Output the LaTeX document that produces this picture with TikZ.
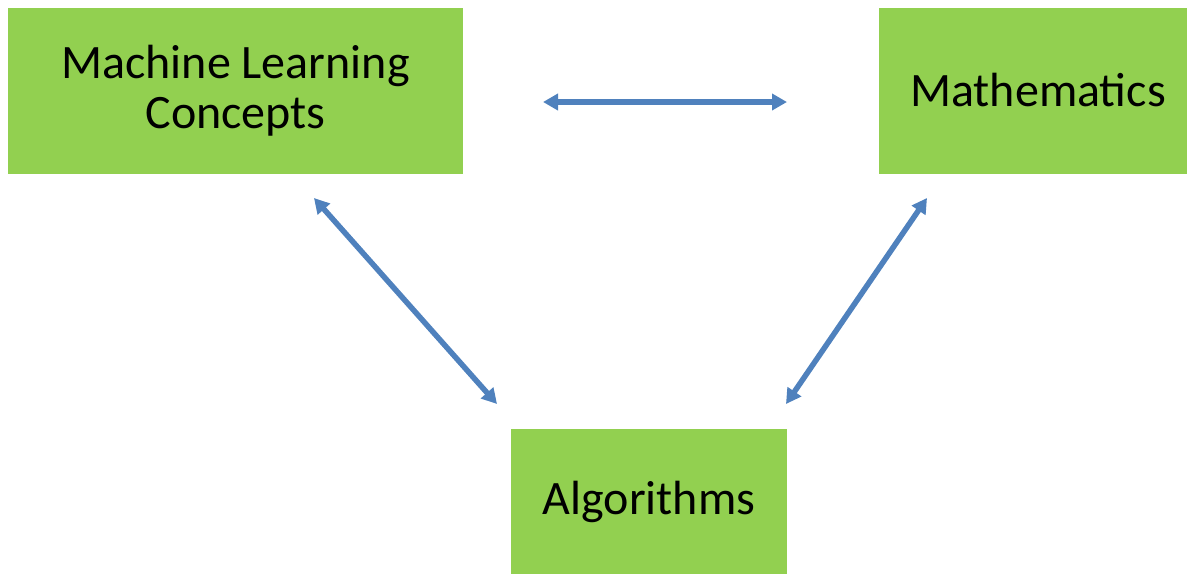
\documentclass[tikz,border=0pt]{standalone}
\usepackage{fontspec}
\setmainfont{Carlito}
\usepackage{xcolor}
\usepackage{tikz}
\definecolor{boxgreen}{HTML}{92D050}
\definecolor{arrowblue}{HTML}{4F81BD}
\tikzset{
  box/.style={fill=boxgreen, inner sep=0pt, align=center,
    font=\fontsize{48}{50}\selectfont},
  link/.style={arrowblue, line width=5.5pt,
    {Triangle[length=15pt,width=16pt]}-{Triangle[length=15pt,width=16pt]}}
}
\usetikzlibrary{arrows.meta}
\begin{document}
\begin{tikzpicture}[x=1pt,y=-1pt]
        \useasboundingbox (0,0) rectangle (1187,574);
        \node[box, minimum width=455pt, minimum height=166pt] (ml) at (235.5,90.5) {Machine Learning\\Concepts};
        \node[box, minimum width=308pt, minimum height=166pt] (math) at (1033,90.5) {\hspace*{10pt}Mathematics};
        \node[box, minimum width=276pt, minimum height=145pt] (alg) at (649,501.5) {Algorithms};
        \coordinate (a) at (543,102);
        \coordinate (b) at (787,102);
        \coordinate (c) at (314,198);
        \coordinate (d) at (497,404);
        \coordinate (e) at (927,198);
        \coordinate (f) at (786,404);
        \draw[link] (a) -- (b);
        \draw[link] (c) -- (d);
        \draw[link] (e) -- (f);
\end{tikzpicture}
\end{document}
